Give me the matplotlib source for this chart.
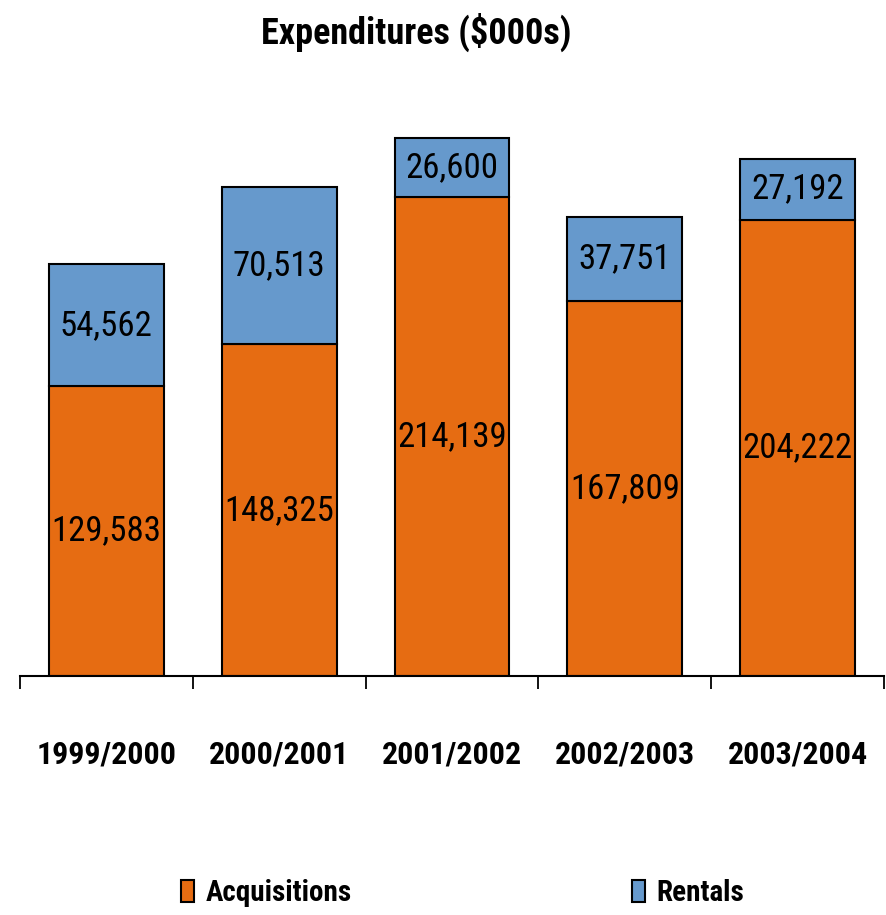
import numpy as np
import matplotlib.pyplot as plt

plt.rcParams["font.family"] = ["Roboto Condensed", "DejaVu Sans"]

years = ["1999/2000", "2000/2001", "2001/2002", "2002/2003", "2003/2004"]
acquisitions = [129583, 148325, 214139, 167809, 204222]
rentals = [54562, 70513, 26600, 37751, 27192]

ORANGE = "#E66C12"
BLUE = "#6699CC"

fig = plt.figure(figsize=(8.86, 9.15), dpi=100)
ax = fig.add_axes([20 / 886, 239 / 915, 864 / 886, 576 / 915])

x = np.arange(len(years))
acq = np.array(acquisitions)
ren = np.array(rentals)
w = 0.665

b1 = ax.bar(x, acq, w, color=ORANGE, edgecolor="black", linewidth=1.5, label="Acquisitions")
b2 = ax.bar(x, ren, w, bottom=acq, color=BLUE, edgecolor="black", linewidth=1.5, label="Rentals")

# valeurs au centre de chaque segment
for xi, a, r in zip(x, acq, ren):
    ax.text(xi, a / 2, f"{a:,}", ha="center", va="center", fontsize=25)
    ax.text(xi, a + r / 2, f"{r:,}", ha="center", va="center", fontsize=25)

ax.set_xlim(-0.5, 4.5)
ax.set_ylim(0, 257700)
for s in ["top", "right", "left"]:
    ax.spines[s].set_visible(False)
ax.spines["bottom"].set_linewidth(1.5)
ax.set_yticks([])

ax.set_xticks(x)
ax.set_xticklabels(years, fontsize=23, fontweight="bold")
ax.tick_params(axis="x", which="major", length=0, pad=46)
ax.set_xticks(np.arange(-0.5, 5, 1), minor=True)
ax.tick_params(axis="x", which="minor", length=9, width=1.3, direction="out")

fig.text(416 / 886, 1 - 32 / 915, "Expenditures ($000s)", ha="center", va="center",
         fontsize=26, fontweight="bold")

fig.legend(handles=[b1, b2], loc="center", bbox_to_anchor=(0.522, 1 - 893 / 915),
           ncol=2, frameon=False, prop={"size": 21, "weight": "bold"},
           handlelength=0.45, handleheight=0.8, handletextpad=0.4, columnspacing=9.6)

fig.savefig("out.png", dpi=100)
